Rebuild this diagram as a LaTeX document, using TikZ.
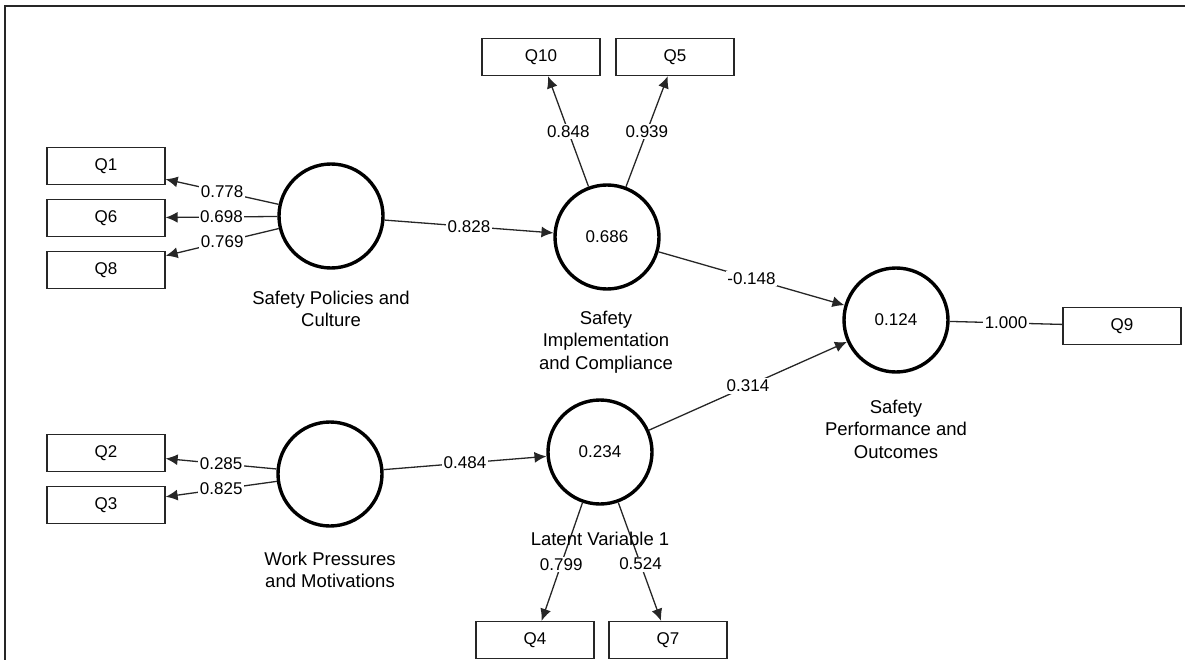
\documentclass[tikz,border=0pt]{standalone}
\usepackage{fontspec}
\setmainfont{Liberation Sans}
\usetikzlibrary{arrows.meta}
\tikzset{
  indbox/.style={draw=black!85, line width=1.3pt, minimum width=118pt, minimum height=37pt, inner sep=0pt, font=\fontsize{17}{22}\selectfont},
  latcirc/.style={draw=black, circle, line width=3.4pt, minimum size=104pt, inner sep=0pt, font=\fontsize{17}{22}\selectfont},
  captxt/.style={align=center, inner sep=0pt, font=\fontsize{18.5}{22.5}\selectfont},
  connarrow/.style={line width=1.3pt, draw=black!85, -{Latex[length=12pt,width=11pt]}},
  plainline/.style={line width=1.3pt, draw=black!85},
  wtlabel/.style={fill=white, inner sep=1.5pt, font=\fontsize{17}{20}\selectfont, midway}
}
\begin{document}
\begin{tikzpicture}[x=1pt,y=-1pt]
\useasboundingbox (0,0) rectangle (1185,660);
\coordinate (f1) at (5,660);
\coordinate (f2) at (5,6);
\coordinate (f3) at (1185,6);
\draw[line width=1.3pt, black!85] (f1) -- (f2) -- (f3);

% latent variables
\node[latcirc] (spc) at (331,216) {};
\node[latcirc] (sic) at (607,237) {0.686};
\node[latcirc] (spo) at (896,320) {0.124};
\node[latcirc] (wpm) at (330,474) {};
\node[latcirc] (lv1) at (600,452) {0.234};

% captions
\node[captxt] (spcc) at (331,309) {Safety Policies and\\Culture};
\node[captxt] (sicc) at (606,342) {Safety\\Implementation\\and Compliance};
\node[captxt] (spoc) at (896,429) {Safety\\Performance and\\Outcomes};
\node[captxt] (wpmc) at (330,570) {Work Pressures\\and Motivations};

% indicators
\node[indbox] (q1) at (106,166) {Q1};
\node[indbox] (q6) at (106,218) {Q6};
\node[indbox] (q8) at (106,270) {Q8};
\node[indbox] (q10) at (541,57) {Q10};
\node[indbox] (q5) at (675,57) {Q5};
\node[indbox] (q9) at (1122,326) {Q9};
\node[indbox] (q2) at (106,453) {Q2};
\node[indbox] (q3) at (106,505) {Q3};
\node[indbox] (q4) at (535,640) {Q4};
\node[indbox] (q7) at (668,640) {Q7};

% outer loadings
\draw[connarrow] (spc) -- node[wtlabel] {0.778} (q1);
\draw[connarrow] (spc) -- node[wtlabel] {0.698} (q6);
\draw[connarrow] (spc) -- node[wtlabel] {0.769} (q8);
\draw[connarrow] (sic) -- node[wtlabel] {0.848} (q10);
\draw[connarrow] (sic) -- node[wtlabel] {0.939} (q5);
\draw[plainline] (spo) -- node[wtlabel] {1.000} (q9);
\draw[connarrow] (wpm) -- node[wtlabel] {0.285} (q2);
\draw[connarrow] (wpm) -- node[wtlabel] {0.825} (q3);
\draw[connarrow] (lv1) -- node[wtlabel, pos=0.52] {0.799} (q4);
\draw[connarrow] (lv1) -- node[wtlabel, pos=0.52] {0.524} (q7);

% Latent variable 1 caption drawn over the lines
\node[captxt] (lv1c) at (600,539) {Latent Variable 1};

% path coefficients
\draw[connarrow] (spc) -- node[wtlabel] {0.828} (sic);
\draw[connarrow] (sic) -- node[wtlabel] {-0.148} (spo);
\draw[connarrow] (lv1) -- node[wtlabel] {0.314} (spo);
\draw[connarrow] (wpm) -- node[wtlabel] {0.484} (lv1);
\end{tikzpicture}
\end{document}
